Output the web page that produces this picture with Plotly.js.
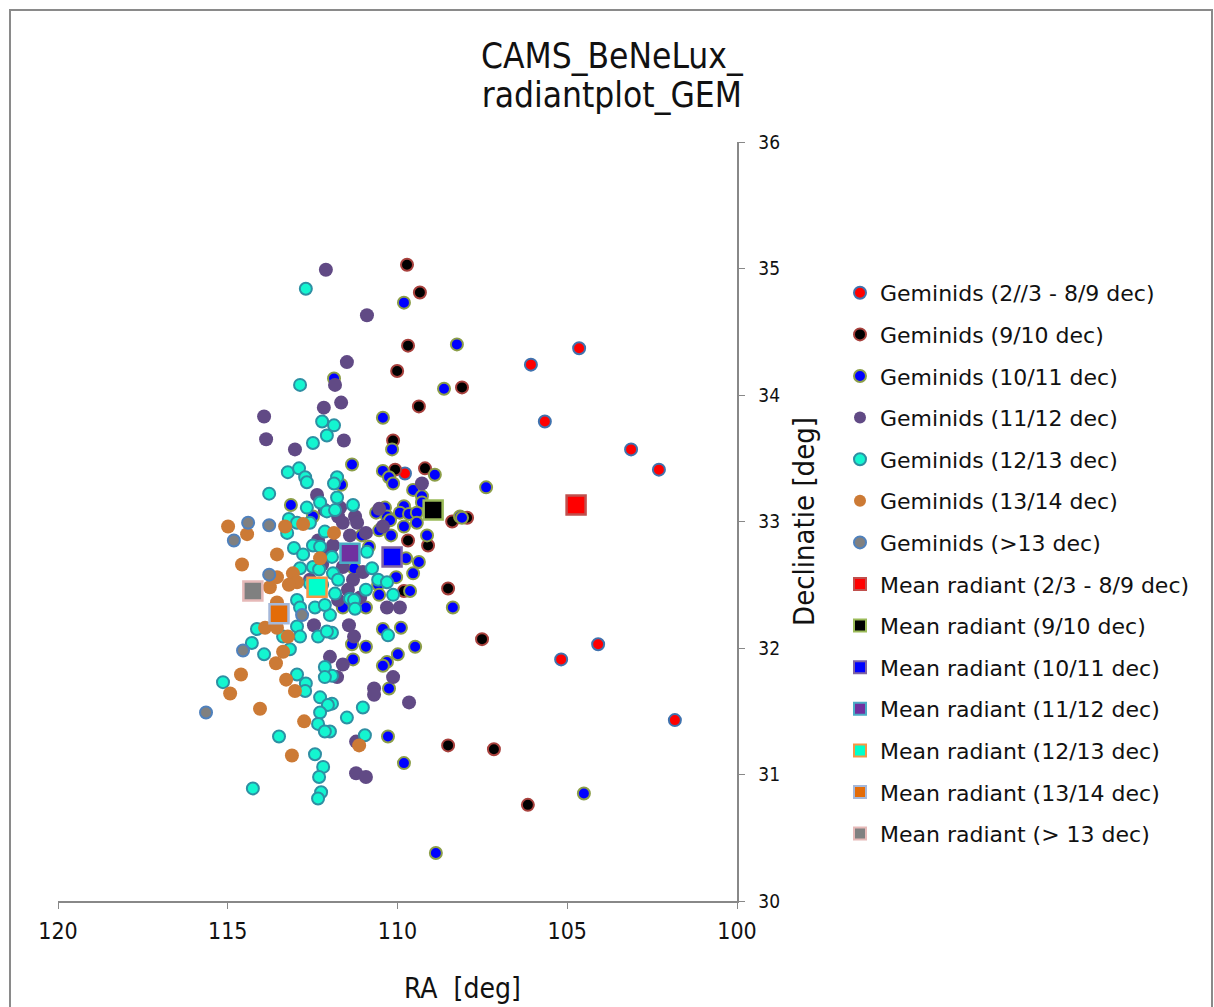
<!DOCTYPE html>
<html><head><meta charset="utf-8">
<script src="https://cdn.plot.ly/plotly-3.0.1.min.js"></script>
<style>html,body{margin:0;padding:0;background:#fff}#chart{width:1214px;height:1007px}</style>
</head><body><div id="chart"></div>
<script>
// ---- data (RA, Dec in degrees) ----
const names = ["Geminids (2//3 - 8/9 dec)","Geminids (9/10 dec)","Geminids (10/11 dec)","Geminids (11/12 dec)","Geminids (12/13 dec)","Geminids (13/14 dec)","Geminids (>13 dec)"];
const ra_0203 = [109.78,106.07,104.65,105.66,103.12,102.30,104.09,105.18,101.83];
const dec_0203 = [33.38,34.24,34.37,33.79,33.57,33.41,32.03,31.91,31.43];
const ra_0910 = [109.72,109.34,109.69,110.01,108.10,109.37,110.13,110.07,109.19,109.69,109.10,108.39,107.95,108.51,109.81,107.51,108.51,107.16,106.16];
const dec_0910 = [35.03,34.81,34.39,34.19,34.06,33.91,33.64,33.41,33.42,32.85,32.81,33.00,33.03,32.47,32.45,32.07,31.23,31.20,30.76];
const ra_1011 = [109.81,108.25,111.87,108.63,110.43,110.16,111.34,110.43,110.25,110.13,108.90,109.54,109.28,109.28,109.81,109.93,109.66,110.37,110.31,110.63,108.16,111.66,109.43,109.43,109.81,110.19,109.13,110.84,109.75,109.37,109.54,110.04,110.57,109.63,110.54,110.93,111.61,108.37,110.43,109.90,110.93,111.34,109.48,109.99,110.31,110.43,111.31,111.28,110.54,110.22,111.05,110.25,110.28,109.81,104.51,108.87,107.39,108.10,113.14,112.49];
const dec_1011 = [34.73,34.40,34.13,34.05,33.82,33.57,33.45,33.40,33.35,33.30,33.37,33.25,33.20,33.15,33.12,33.07,33.06,33.11,33.04,33.07,33.04,33.29,33.07,32.99,32.96,32.89,32.89,32.80,32.71,32.68,32.59,32.56,32.50,32.45,32.42,32.32,32.32,32.32,32.15,32.16,32.01,32.03,32.01,31.95,31.89,31.86,31.91,32.63,32.93,33.01,32.89,31.68,31.30,31.09,30.85,30.38,33.27,33.03,33.13,33.04];
const ra_1112 = [112.11,110.90,111.49,113.93,113.87,113.02,112.17,112.37,111.84,111.66,111.58,109.28,110.54,111.69,111.75,111.25,111.61,111.19,110.43,110.93,111.40,111.99,111.61,111.02,111.31,111.46,111.10,110.31,109.93,111.43,111.28,111.99,111.61,111.78,110.13,110.69,110.69,109.66,111.22,111.22,110.93,112.46,112.14,112.34,111.90,112.22,111.75,112.58];
const dec_1112 = [34.99,34.63,34.26,33.83,33.65,33.57,33.90,33.21,34.08,33.94,33.64,33.30,33.10,33.11,33.04,33.04,32.99,32.99,32.96,32.91,32.89,32.75,32.64,32.60,32.54,32.46,32.40,32.32,32.32,32.18,32.09,31.93,31.87,31.77,31.77,31.68,31.63,31.57,31.26,31.01,30.98,32.18,33.09,32.85,32.81,32.66,32.38,32.54];
const ra_1213 = [112.70,112.87,112.22,112.08,112.49,113.23,112.90,112.72,112.67,113.78,112.28,112.67,112.08,113.20,111.87,111.78,111.87,111.78,111.31,111.84,110.90,110.75,110.57,110.31,110.13,110.93,111.93,111.90,111.75,111.84,111.40,111.28,111.25,111.99,110.28,111.93,111.93,111.93,111.02,111.49,110.96,111.99,113.25,112.96,112.58,113.05,112.78,112.49,112.87,112.28,112.14,112.49,112.96,112.87,112.43,112.14,112.96,112.87,112.34,112.08,114.14,114.29,113.93,113.37,113.17,112.14,112.31,112.22,112.58,115.14,112.96,112.70,112.72,112.28,112.05,112.28,112.34,112.14,113.49,112.43,112.19,112.31,112.25,112.34,114.26,112.14];
const dec_1213 = [34.84,34.08,33.79,33.68,33.62,33.39,33.42,33.35,33.31,33.22,33.15,33.11,33.08,33.02,33.76,33.35,33.30,33.19,33.13,33.09,32.76,32.63,32.54,32.52,32.42,32.46,32.72,32.59,32.54,32.43,32.39,32.38,32.31,32.26,32.10,32.12,31.78,31.56,31.53,31.45,31.31,31.34,32.91,32.99,32.99,32.79,32.74,32.81,32.63,32.80,32.92,32.64,32.38,32.32,32.32,32.34,32.17,32.09,32.09,32.13,32.15,32.04,31.95,32.09,31.99,31.85,32.62,32.50,32.51,31.73,31.79,31.72,31.66,31.61,31.55,31.49,31.40,31.34,31.30,31.16,31.06,30.98,30.86,30.81,30.89,31.77];
const ra_1314 = [114.99,114.43,113.55,114.58,113.55,113.76,113.08,112.96,113.20,113.31,112.78,112.28,113.55,113.90,113.55,113.23,113.37,113.58,114.61,114.93,113.28,113.02,114.05,112.75,113.11,111.13,111.87];
const dec_1314 = [32.96,32.90,32.74,32.66,32.56,32.48,32.59,32.52,32.50,32.96,32.98,32.71,32.36,32.16,32.16,32.09,31.97,31.88,31.79,31.64,31.75,31.66,31.52,31.42,31.15,31.23,32.91];
const ra_gt13 = [114.40,113.78,114.82,113.78,112.81,114.55,115.64];
const dec_gt13 = [32.99,32.97,32.85,32.58,32.26,31.98,31.49];

const meanNames = ["Mean radiant (2/3 - 8/9 dec)","Mean radiant (9/10 dec)","Mean radiant (10/11 dec)","Mean radiant (11/12 dec)","Mean radiant (12/13 dec)","Mean radiant (13/14 dec)","Mean radiant (> 13 dec)"];
const meanRA = [104.74,108.95,110.16,111.40,112.37,113.49,114.26];
const meanDec = [33.13,33.09,32.72,32.75,32.48,32.27,32.45];

const xTicks = [120,115,110,105,100];
const yTicks = [30,31,32,33,34,35,36];

// ---- styles ----
const ptFill = ["#FF0000","#000000","#0000FF","#614A85","#14F5D0","#CC7A35","#808080"];
const ptLine = ["#3F72AE","#A8413D","#8C9E48","#614A85","#2E8FA3","#CC7A35","#4F81BD"];
const ptLineW = [2,2,2,0,2,0,2];
const ptSize = [12,12,12,14,12,14,12];
const sqFill = ["#FF0000","#000000","#0000FF","#7030A0","#00FFCC","#E36C09","#808080"];
const sqLine = ["#C0504D","#9BBB59","#8064A2","#4BACC6","#F79646","#A5B8DA","#E6B9B8"];

const ptX = [ra_0203,ra_0910,ra_1011,ra_1112,ra_1213,ra_1314,ra_gt13];
const ptY = [dec_0203,dec_0910,dec_1011,dec_1112,dec_1213,dec_1314,dec_gt13];

const traces = [];
for (let i=0;i<7;i++){
  traces.push({type:"scatter",mode:"markers",name:names[i],x:ptX[i],y:ptY[i],legendgroup:"g"+i,
    marker:{symbol:"circle",size:ptSize[i],color:ptFill[i],line:{color:ptLine[i],width:ptLineW[i]}},hoverinfo:"x+y+name"});
}
for (let i=0;i<7;i++){
  traces.push({type:"scatter",mode:"markers",name:meanNames[i],x:[meanRA[i]],y:[meanDec[i]],legendgroup:"m"+i,
    marker:{symbol:"square",size:19,color:sqFill[i],line:{color:sqLine[i],width:2.5}}});
}

const W=1214,H=1007,L=58,R=477,T=142,B=106;
const pw=W-L-R, ph=H-T-B;
const px2x = p => (p-L)/pw, py2y = p => (H-B-p)/ph;

const layout = {
  width:W,height:H,margin:{l:L,r:R,t:T,b:B},
  paper_bgcolor:"#fff",plot_bgcolor:"#fff",
  font:{family:"DejaVu Sans Condensed, DejaVu Sans, sans-serif",color:"#222"},
  title:{text:"<span style='font-size:35px'>CAMS_BeNeLux_</span><br><span style='font-size:35px'>radiantplot_GEM</span>",
    x:0.504,xref:"container",y:1-68/H,yref:"container",yanchor:"top",
    font:{family:"DejaVu Sans Condensed, DejaVu Sans, sans-serif",size:30,color:"#111"}},
  showlegend:true,
  legend:{x:px2x(840),y:py2y(272),xanchor:"left",yanchor:"top",traceorder:"grouped",tracegroupgap:10,itemsizing:"constant",
    font:{family:"DejaVu Sans, Verdana, sans-serif",size:22,color:"#111"},bgcolor:"rgba(0,0,0,0)"},
  xaxis:{range:[120,100],tickvals:xTicks,ticks:"outside",ticklen:6,tickcolor:"#888",showline:true,linecolor:"#888",linewidth:1.5,
    showgrid:false,zeroline:false,tickfont:{size:23,color:"#111"},ticklabelstandoff:3,fixedrange:true},
  yaxis:{range:[30,36],tickvals:yTicks,side:"right",ticks:"outside",ticklen:6,tickcolor:"#888",showline:true,linecolor:"#888",linewidth:1.5,
    showgrid:false,zeroline:false,tickfont:{size:19,color:"#111"},ticklabelstandoff:10,
    title:{text:"Declinatie [deg]",standoff:14,font:{size:29,color:"#111"}},fixedrange:true},
  annotations:[{text:"RA  [deg]",xref:"paper",yref:"paper",x:px2x(462),y:py2y(988),xanchor:"center",yanchor:"middle",showarrow:false,
    font:{family:"DejaVu Sans Condensed, DejaVu Sans, sans-serif",size:28,color:"#111"}}],
  shapes:[{type:"rect",xref:"paper",yref:"paper",x0:px2x(10),x1:px2x(1212),y0:py2y(1030),y1:py2y(10),line:{color:"#8a8a8a",width:2},fillcolor:"rgba(0,0,0,0)",layer:"below"}]
};
Plotly.newPlot("chart",traces,layout,{displayModeBar:false,staticPlot:true});
</script></body></html>
